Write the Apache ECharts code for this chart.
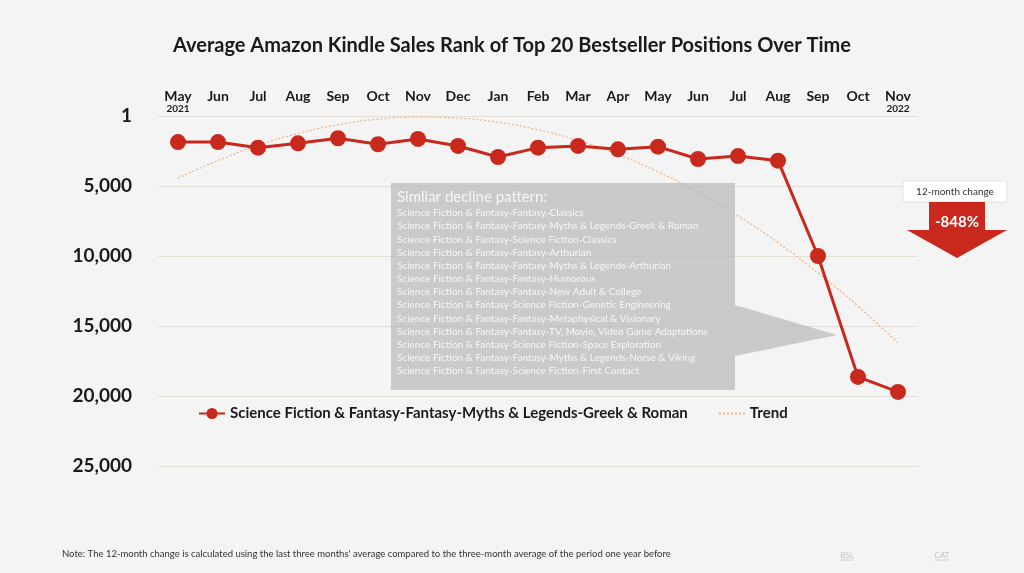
<!DOCTYPE html>
<html>
<head>
<meta charset="utf-8">
<script src="https://cdn.jsdelivr.net/npm/echarts@6/dist/echarts.min.js"></script>
<style>
html,body{margin:0;padding:0;background:#f4f4f4;}
#c{width:1024px;height:573px;}
</style>
</head>
<body>
<div id="c"></div>
<script>
const months = ['May','Jun','Jul','Aug','Sep','Oct','Nov','Dec','Jan','Feb','Mar','Apr','May','Jun','Jul','Aug','Sep','Oct','Nov'];
const yearLabels = {0:'2021', 18:'2022'};
const salesRank = [1860,1860,2260,1950,1590,2020,1640,2140,2930,2260,2140,2380,2190,3070,2860,3190,10000,18640,19710];
const trendValues = [4430,3190,2100,1250,630,230,70,150,450,990,1750,2750,3980,5440,7130,9050,11210,13590,16210];
const yTicks = [0,5000,10000,15000,20000,25000];
const seriesName = 'Science Fiction & Fantasy-Fantasy-Myths & Legends-Greek & Roman';
const trendName = 'Trend';
const calloutTitle = 'Simliar decline pattern:';
const similarCategories = [
  'Science Fiction & Fantasy-Fantasy-Classics',
  'Science Fiction & Fantasy-Fantasy-Myths & Legends-Greek & Roman',
  'Science Fiction & Fantasy-Science Fiction-Classics',
  'Science Fiction & Fantasy-Fantasy-Arthurian',
  'Science Fiction & Fantasy-Fantasy-Myths & Legends-Arthurian',
  'Science Fiction & Fantasy-Fantasy-Humorous',
  'Science Fiction & Fantasy-Fantasy-New Adult & College',
  'Science Fiction & Fantasy-Science Fiction-Genetic Engineering',
  'Science Fiction & Fantasy-Fantasy-Metaphysical & Visionary',
  'Science Fiction & Fantasy-Fantasy-TV, Movie, Video Game Adaptations',
  'Science Fiction & Fantasy-Science Fiction-Space Exploration',
  'Science Fiction & Fantasy-Fantasy-Myths & Legends-Norse & Viking',
  'Science Fiction & Fantasy-Science Fiction-First Contact'
];
const changeLabel = '12-month change';
const changeValue = '-848%';
const noteText = "Note: The 12-month change is calculated using the last three months' average compared to the three-month average of the period one year before";
const titleText = 'Average Amazon Kindle Sales Rank of Top 20 Bestseller Positions Over Time';

const FONT = 'Lato, "Open Sans", sans-serif';
const RED = '#c8291c';

const chart = echarts.init(document.getElementById('c'));

const graphics = [];
graphics.push({
  type:'polygon', z:5,
  shape:{points:[[391,183],[735,183],[735,305],[837,335],[735,356],[735,390],[391,390]]},
  style:{fill:'rgba(186,186,186,0.72)'}
});
graphics.push({
  type:'text', z:6, x:397, y:197,
  style:{text:calloutTitle, fill:'#f6f6f6', font:'15px '+FONT, textVerticalAlign:'middle', verticalAlign:'middle'}
});
similarCategories.forEach((t,i)=>{
  graphics.push({
    type:'text', z:6, x:397, y:213 + i*13.17,
    style:{text:t, fill:'#f6f6f6', font:'10px '+FONT, verticalAlign:'middle', textVerticalAlign:'middle'}
  });
});
// 12-month change
graphics.push({
  type:'rect', z:6, shape:{x:903,y:181,width:104,height:21},
  style:{fill:'#ffffff', stroke:'#e2e2e2', lineWidth:1}
});
graphics.push({
  type:'text', z:7, x:955, y:191.5,
  style:{text:changeLabel, fill:'#333', font:'10px '+FONT, align:'center', verticalAlign:'middle', textAlign:'center', textVerticalAlign:'middle'}
});
graphics.push({
  type:'polygon', z:6,
  shape:{points:[[929,202],[985,202],[985,230],[1007,230],[957,258],[907,230],[929,230]]},
  style:{fill:RED}
});
graphics.push({
  type:'text', z:7, x:957, y:222,
  style:{text:changeValue, fill:'#ffffff', font:'bold 15px '+FONT, align:'center', verticalAlign:'middle', textAlign:'center', textVerticalAlign:'middle'}
});
// footnote
graphics.push({
  type:'text', z:6, x:62, y:554,
  style:{text:noteText, fill:'#333', font:'9.5px '+FONT, verticalAlign:'middle', textVerticalAlign:'middle'}
});
[['BSL',847],['CAT',942]].forEach(([t,x])=>{
  graphics.push({type:'text', z:6, x:x, y:555,
    style:{text:t, fill:'#c4c4c4', font:'8px '+FONT, align:'center', verticalAlign:'middle', textAlign:'center', textVerticalAlign:'middle'}});
  graphics.push({type:'line', z:6, shape:{x1:x-7,y1:560,x2:x+7,y2:560}, style:{stroke:'#d0d0d0', lineWidth:1}});
});

chart.setOption({
  backgroundColor:'#f4f4f4',
  animation:false,
  textStyle:{fontFamily:FONT},
  title:{
    text:titleText, left:'center', top:31,
    textStyle:{fontSize:20, fontWeight:'bold', color:'#1a1a1a', fontFamily:FONT}
  },
  grid:{left:158, right:106, top:116, bottom:107},
  legend:{
    left:193, top:401, itemGap:30, itemWidth:26, itemHeight:14,
    textStyle:{fontSize:15, fontWeight:'bold', color:'#1a1a1a', fontFamily:FONT},
    data:[seriesName, {name:trendName, itemStyle:{opacity:0}}]
  },
  xAxis:{
    type:'category', position:'top', data:months, boundaryGap:true,
    axisLine:{show:false}, axisTick:{show:false},
    axisLabel:{
      margin:1, interval:0,
      formatter:(v,i)=>'{m|'+v+'}\n{y|'+(yearLabels[i]||' ')+'}',
      rich:{
        m:{fontSize:14, fontWeight:'bold', color:'#1a1a1a', lineHeight:13, fontFamily:FONT},
        y:{fontSize:10, fontWeight:'bold', color:'#1a1a1a', lineHeight:12, fontFamily:FONT}
      }
    }
  },
  yAxis:{
    type:'value', inverse:true, min:0, max:25000, interval:5000,
    axisLine:{show:false}, axisTick:{show:false},
    splitLine:{lineStyle:{color:'#e4dfd6', width:1}},
    axisLabel:{
      margin:26, fontSize:19, fontWeight:'bold', color:'#1a1a1a', fontFamily:FONT,
      formatter:v=> v===0 ? '1' : v.toLocaleString('en-US')
    }
  },
  graphic:{elements:graphics},
  series:[
    {
      name:trendName, type:'line', data:trendValues, smooth:true, symbol:'none', z:1,
      lineStyle:{color:'#f2b07e', width:1.2, type:[2,2]}, itemStyle:{color:'#f2b07e'}
    },
    {
      name:seriesName, type:'line', data:salesRank, z:10,
      symbol:'circle', symbolSize:16,
      lineStyle:{color:RED, width:3}, itemStyle:{color:RED}
    }
  ]
});
</script>
</body>
</html>
